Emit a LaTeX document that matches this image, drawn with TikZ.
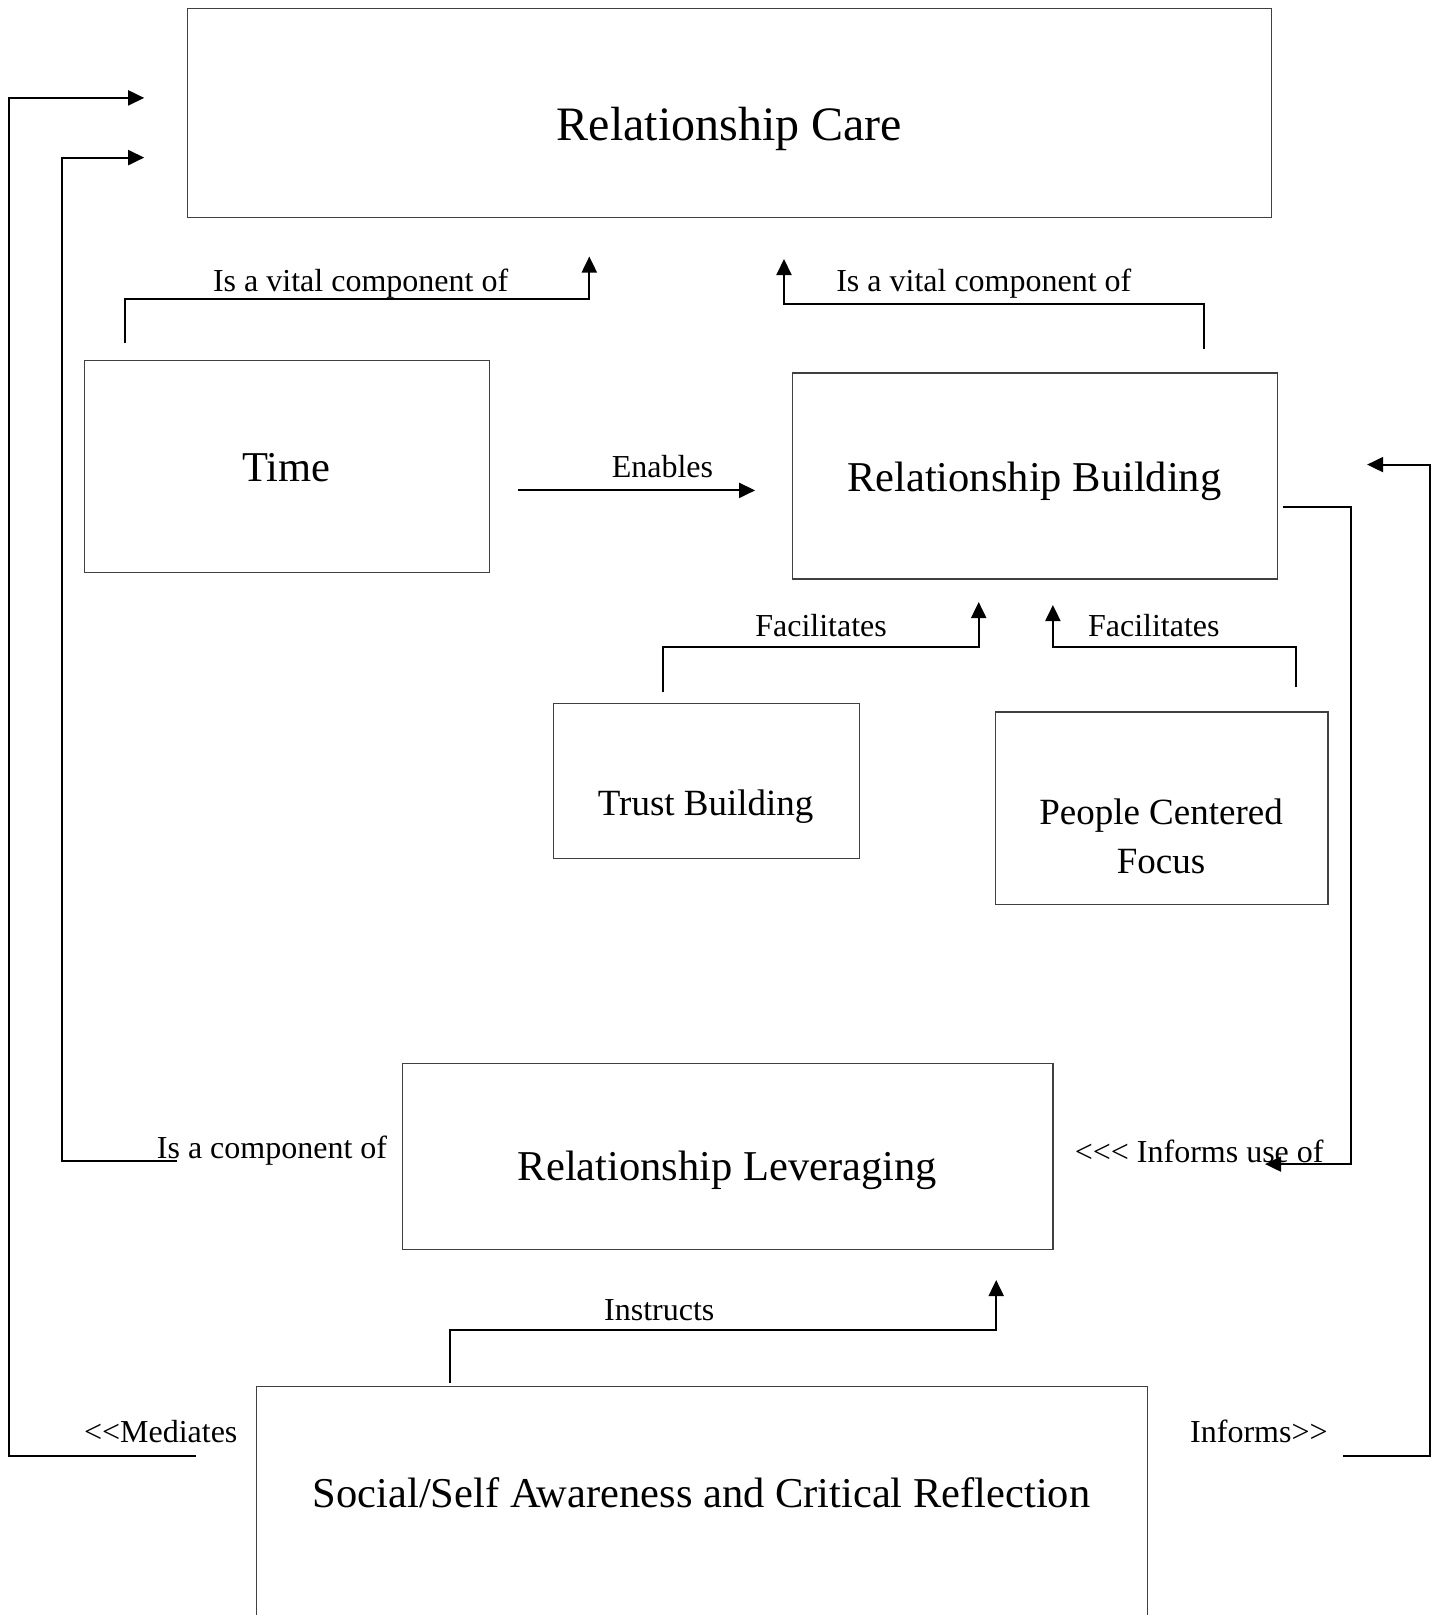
\documentclass[tikz,border=0pt]{standalone}
\usepackage{fontspec}
\setmainfont{Liberation Serif}
\usetikzlibrary{arrows.meta}
\tikzset{
  boxline/.style={draw=black!75, line width=1.2pt},
  big/.style={font=\fontsize{42.5}{50}\selectfont, inner sep=0pt, yshift=-2.5pt},
  mid/.style={font=\fontsize{37}{49.5}\selectfont, inner sep=0pt, align=center, yshift=-2pt},
  lbl/.style={font=\fontsize{32}{38}\selectfont, inner sep=0pt, yshift=-3pt},
  conn/.style={line width=2pt, -{Triangle[length=16pt,width=15pt]}},
  plain/.style={line width=2pt}
}
\newcommand{\lt}{<\kern0pt}
\newcommand{\gt}{>\kern0pt}
\begin{document}
\begin{tikzpicture}[x=1pt,y=-1pt]
\useasboundingbox[fill=white] (0,0) rectangle (1435,1615);
% boxes
\draw[boxline] (187.5,8.2) rectangle (1271.3,217.4);
\draw[boxline] (84.5,360.6) rectangle (489.3,572.8);
\draw[boxline] (792.2,372.9) rectangle (1277.4,579.0);
\draw[boxline] (553.2,703.6) rectangle (859.2,858.2);
\draw[boxline] (995.2,711.9) rectangle (1327.9,904.5);
\draw[boxline] (402.8,1063.2) rectangle (1052.9,1249.6);
\draw[boxline] (256.8,1620) -- (256.8,1386.7) -- (1147.6,1386.7) -- (1147.6,1620);
% box texts
\node[font=\fontsize{48}{56}\selectfont, inner sep=0pt] (rc) at (729.4,129) {Relationship Care};
\node[big] (time) at (286.4,465.6) {Time};
\node[big] (rb) at (1034.3,479) {Relationship Building};
\node[mid] (tb) at (705.7,804.6) {Trust Building};
\node[mid] (pcf) at (1161,834.5) {People Centered\\Focus};
\node[big] (rl) at (727.3,1168) {Relationship Leveraging};
\node[big] (ss) at (701.6,1490) {Social/Self Awareness and Critical Reflection};
% labels
\node[lbl] (l1) at (360.6,281) {Is a vital component of};
\node[lbl] (l2) at (983.8,281) {Is a vital component of};
\node[lbl] (l3) at (662.4,464) {Enables};
\node[lbl] (l4) at (821.1,623) {Facilitates};
\node[lbl] (l5) at (1153.8,623) {Facilitates};
\node[lbl] (l6) at (272,1148) {Is a component of};
\node[lbl] (l7) at (1199.2,1148) {\lt\lt\lt{} Informs use of};
\node[lbl] (l8) at (160.7,1428.5) {\lt\lt Mediates};
\node[lbl] (l9) at (1258.9,1428.5) {Informs\gt\gt};
\node[lbl] (l10) at (659.3,1307) {Instructs};
% connector end points
\coordinate (a1s) at (195.7,1455.7);  \coordinate (a1e) at (144.2,97.9);
\coordinate (a2s) at (177.2,1161);    \coordinate (a2e) at (144.2,157.6);
\coordinate (a3s) at (124.7,343.1);   \coordinate (a3e) at (589.3,256.5);
\coordinate (a4s) at (1204.3,349.2);  \coordinate (a4e) at (784.0,259.0);
\coordinate (a5s) at (518.2,490.4);   \coordinate (a5e) at (755.1,490.4);
\coordinate (a6s) at (663.4,692.3);   \coordinate (a6e) at (978.7,602.0);
\coordinate (a7s) at (1296.0,687.2);  \coordinate (a7e) at (1052.9,605.0);
\coordinate (a8s) at (1282.6,506.9);  \coordinate (a8e) at (1265.1,1164.1);
\coordinate (a9s) at (1343.4,1455.7); \coordinate (a9e) at (1367.1,464.6);
\coordinate (a10s) at (450.2,1382.5); \coordinate (a10e) at (996.2,1280.0);
% connectors
\draw[conn] (a1s) -- (9.3,1455.7) -- (9.3,97.9) -- (a1e);
\draw[conn] (a2s) -- (61.8,1161) -- (61.8,157.6) -- (a2e);
\draw[conn] (a3s) -- (124.7,298.8) -- (589.3,298.8) -- (a3e);
\draw[conn] (a4s) -- (1204.3,303.9) -- (784.0,303.9) -- (a4e);
\draw[conn] (a5s) -- (a5e);
\draw[conn] (a6s) -- (663.4,647.0) -- (978.7,647.0) -- (a6e);
\draw[conn] (a7s) -- (1296.0,647.0) -- (1052.9,647.0) -- (a7e);
\draw[conn] (a8s) -- (1350.6,506.9) -- (1350.6,1164.1) -- (a8e);
\draw[conn] (a9s) -- (1429.9,1455.7) -- (1429.9,464.6) -- (a9e);
\draw[conn] (a10s) -- (450.2,1330.0) -- (996.2,1330.0) -- (a10e);
\end{tikzpicture}
\end{document}
